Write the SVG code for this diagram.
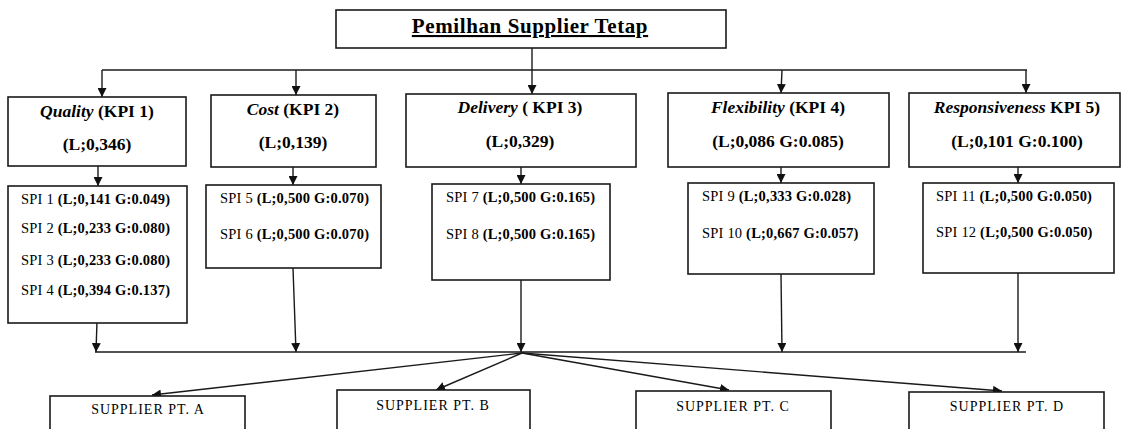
<svg xmlns="http://www.w3.org/2000/svg" width="1124" height="429" viewBox="0 0 1124 429">
<defs>
<marker id="ah" markerWidth="9" markerHeight="9" refX="9" refY="4.5" orient="auto" markerUnits="userSpaceOnUse">
<path d="M0,0 L9,4.5 L0,9 z" fill="#111"/>
</marker>
<style>
.box{fill:#fff;stroke:#1a1a1a;stroke-width:1.6}
.ln{fill:none;stroke:#1a1a1a;stroke-width:1.4}
.ar{fill:none;stroke:#1a1a1a;stroke-width:1.4;marker-end:url(#ah)}
.title{font-family:"Liberation Serif","Times New Roman",serif;font-size:21px;font-weight:bold;letter-spacing:0.6px;text-decoration:underline;fill:#000}
.kpi{font-family:"Liberation Serif","Times New Roman",serif;font-size:17.5px;font-weight:bold;fill:#000}
.it{font-style:italic}
.spi{font-family:"Liberation Serif","Times New Roman",serif;font-size:14.5px;letter-spacing:0.2px;fill:#000}
.b{font-weight:bold}
.sup{font-family:"Liberation Serif","Times New Roman",serif;font-size:14px;letter-spacing:1px;fill:#000}
</style>
</defs>
<rect width="1124" height="429" fill="#fff"/>

<g id="connectors">
<line class="ar" x1="532" y1="48" x2="532" y2="94"/>
<line class="ln" x1="102" y1="70" x2="1027" y2="70"/>
<line class="ar" x1="102" y1="70" x2="102" y2="97"/>
<line class="ar" x1="296" y1="70" x2="296" y2="95"/>
<line class="ar" x1="782" y1="70" x2="781" y2="93"/>
<line class="ar" x1="1026" y1="70" x2="1026" y2="93"/>

<line class="ar" x1="98" y1="166" x2="98" y2="186"/>
<line class="ar" x1="293" y1="167" x2="293" y2="185"/>
<line class="ar" x1="521" y1="167" x2="521" y2="184"/>
<line class="ar" x1="781" y1="167" x2="781" y2="183"/>
<line class="ar" x1="1018" y1="167" x2="1018" y2="183"/>

<line class="ar" x1="97" y1="321" x2="96" y2="352"/>
<line class="ar" x1="293" y1="268" x2="296" y2="352"/>
<line class="ar" x1="521" y1="280" x2="521" y2="352"/>
<line class="ar" x1="781" y1="274" x2="782" y2="352"/>
<line class="ar" x1="1018" y1="273" x2="1018" y2="352"/>
<line class="ln" x1="95" y1="352" x2="1026" y2="352"/>

<line class="ar" x1="522" y1="353" x2="152" y2="395"/>
<line class="ar" x1="522" y1="353" x2="436" y2="390"/>
<line class="ar" x1="522" y1="353" x2="729" y2="390"/>
<line class="ar" x1="522" y1="353" x2="1002" y2="391"/>
</g>

<g id="title">
<rect class="box" x="336" y="10" width="390" height="38"/>
<text class="title" x="530" y="33" text-anchor="middle">Pemilhan Supplier Tetap</text>
</g>

<g id="kpi1">
<rect class="box" x="8" y="97" width="178" height="69"/>
<text class="kpi" x="97" y="117" text-anchor="middle"><tspan class="it">Quality</tspan> (KPI 1)</text>
<text class="kpi" x="97" y="150" text-anchor="middle">(L;0,346)</text>
</g>
<g id="kpi2">
<rect class="box" x="211" y="95" width="165" height="72"/>
<text class="kpi" x="293" y="115" text-anchor="middle"><tspan class="it">Cost</tspan> (KPI 2)</text>
<text class="kpi" x="293" y="148" text-anchor="middle">(L;0,139)</text>
</g>
<g id="kpi3">
<rect class="box" x="406" y="94" width="230" height="73"/>
<text class="kpi" x="520" y="113" text-anchor="middle"><tspan class="it">Delivery</tspan> ( KPI 3)</text>
<text class="kpi" x="520" y="147" text-anchor="middle">(L;0,329)</text>
</g>
<g id="kpi4">
<rect class="box" x="668" y="93" width="221" height="74"/>
<text class="kpi" x="778" y="113" text-anchor="middle"><tspan class="it">Flexibility</tspan>  (KPI 4)</text>
<text class="kpi" x="778" y="147" text-anchor="middle">(L;0,086 G:0.085)</text>
</g>
<g id="kpi5">
<rect class="box" x="909" y="93" width="211" height="74"/>
<text class="kpi" x="1017" y="113" text-anchor="middle"><tspan class="it">Responsiveness</tspan> KPI 5)</text>
<text class="kpi" x="1017" y="147" text-anchor="middle">(L;0,101 G:0.100)</text>
</g>

<g id="spi-quality">
<rect class="box" x="8" y="186" width="179" height="137"/>
<text class="spi" x="21" y="204">SPI 1 <tspan class="b">(L;0,141 G:0.049)</tspan></text>
<text class="spi" x="21" y="233">SPI 2 <tspan class="b">(L;0,233 G:0.080)</tspan></text>
<text class="spi" x="21" y="265">SPI 3 <tspan class="b">(L;0,233 G:0.080)</tspan></text>
<text class="spi" x="21" y="295">SPI 4 <tspan class="b">(L;0,394 G:0.137)</tspan></text>
</g>
<g id="spi-cost">
<rect class="box" x="206" y="185" width="175" height="83"/>
<text class="spi" x="220" y="203">SPI 5 <tspan class="b">(L;0,500 G:0.070)</tspan></text>
<text class="spi" x="220" y="239">SPI 6 <tspan class="b">(L;0,500 G:0.070)</tspan></text>
</g>
<g id="spi-delivery">
<rect class="box" x="432" y="184" width="178" height="96"/>
<text class="spi" x="446" y="202">SPI 7 <tspan class="b">(L;0,500 G:0.165)</tspan></text>
<text class="spi" x="446" y="239">SPI 8 <tspan class="b">(L;0,500 G:0.165)</tspan></text>
</g>
<g id="spi-flexibility">
<rect class="box" x="688" y="183" width="186" height="91"/>
<text class="spi" x="702" y="201">SPI 9 <tspan class="b">(L;0,333 G:0.028)</tspan></text>
<text class="spi" x="702" y="238">SPI 10 <tspan class="b">(L;0,667 G:0.057)</tspan></text>
</g>
<g id="spi-responsiveness">
<rect class="box" x="923" y="183" width="191" height="90"/>
<text class="spi" x="936" y="201">SPI 11 <tspan class="b">(L;0,500 G:0.050)</tspan></text>
<text class="spi" x="936" y="237">SPI 12 <tspan class="b">(L;0,500 G:0.050)</tspan></text>
</g>

<g id="supplier-a">
<rect class="box" x="50" y="396" width="195" height="50"/>
<text class="sup" x="148" y="414" text-anchor="middle">SUPPLIER PT. A</text>
</g>
<g id="supplier-b">
<rect class="box" x="337" y="390" width="193" height="56"/>
<text class="sup" x="433" y="410" text-anchor="middle">SUPPLIER PT. B</text>
</g>
<g id="supplier-c">
<rect class="box" x="636" y="391" width="195" height="55"/>
<text class="sup" x="733" y="411" text-anchor="middle">SUPPLIER PT. C</text>
</g>
<g id="supplier-d">
<rect class="box" x="909" y="392" width="195" height="54"/>
<text class="sup" x="1007" y="411" text-anchor="middle">SUPPLIER PT. D</text>
</g>
</svg>
